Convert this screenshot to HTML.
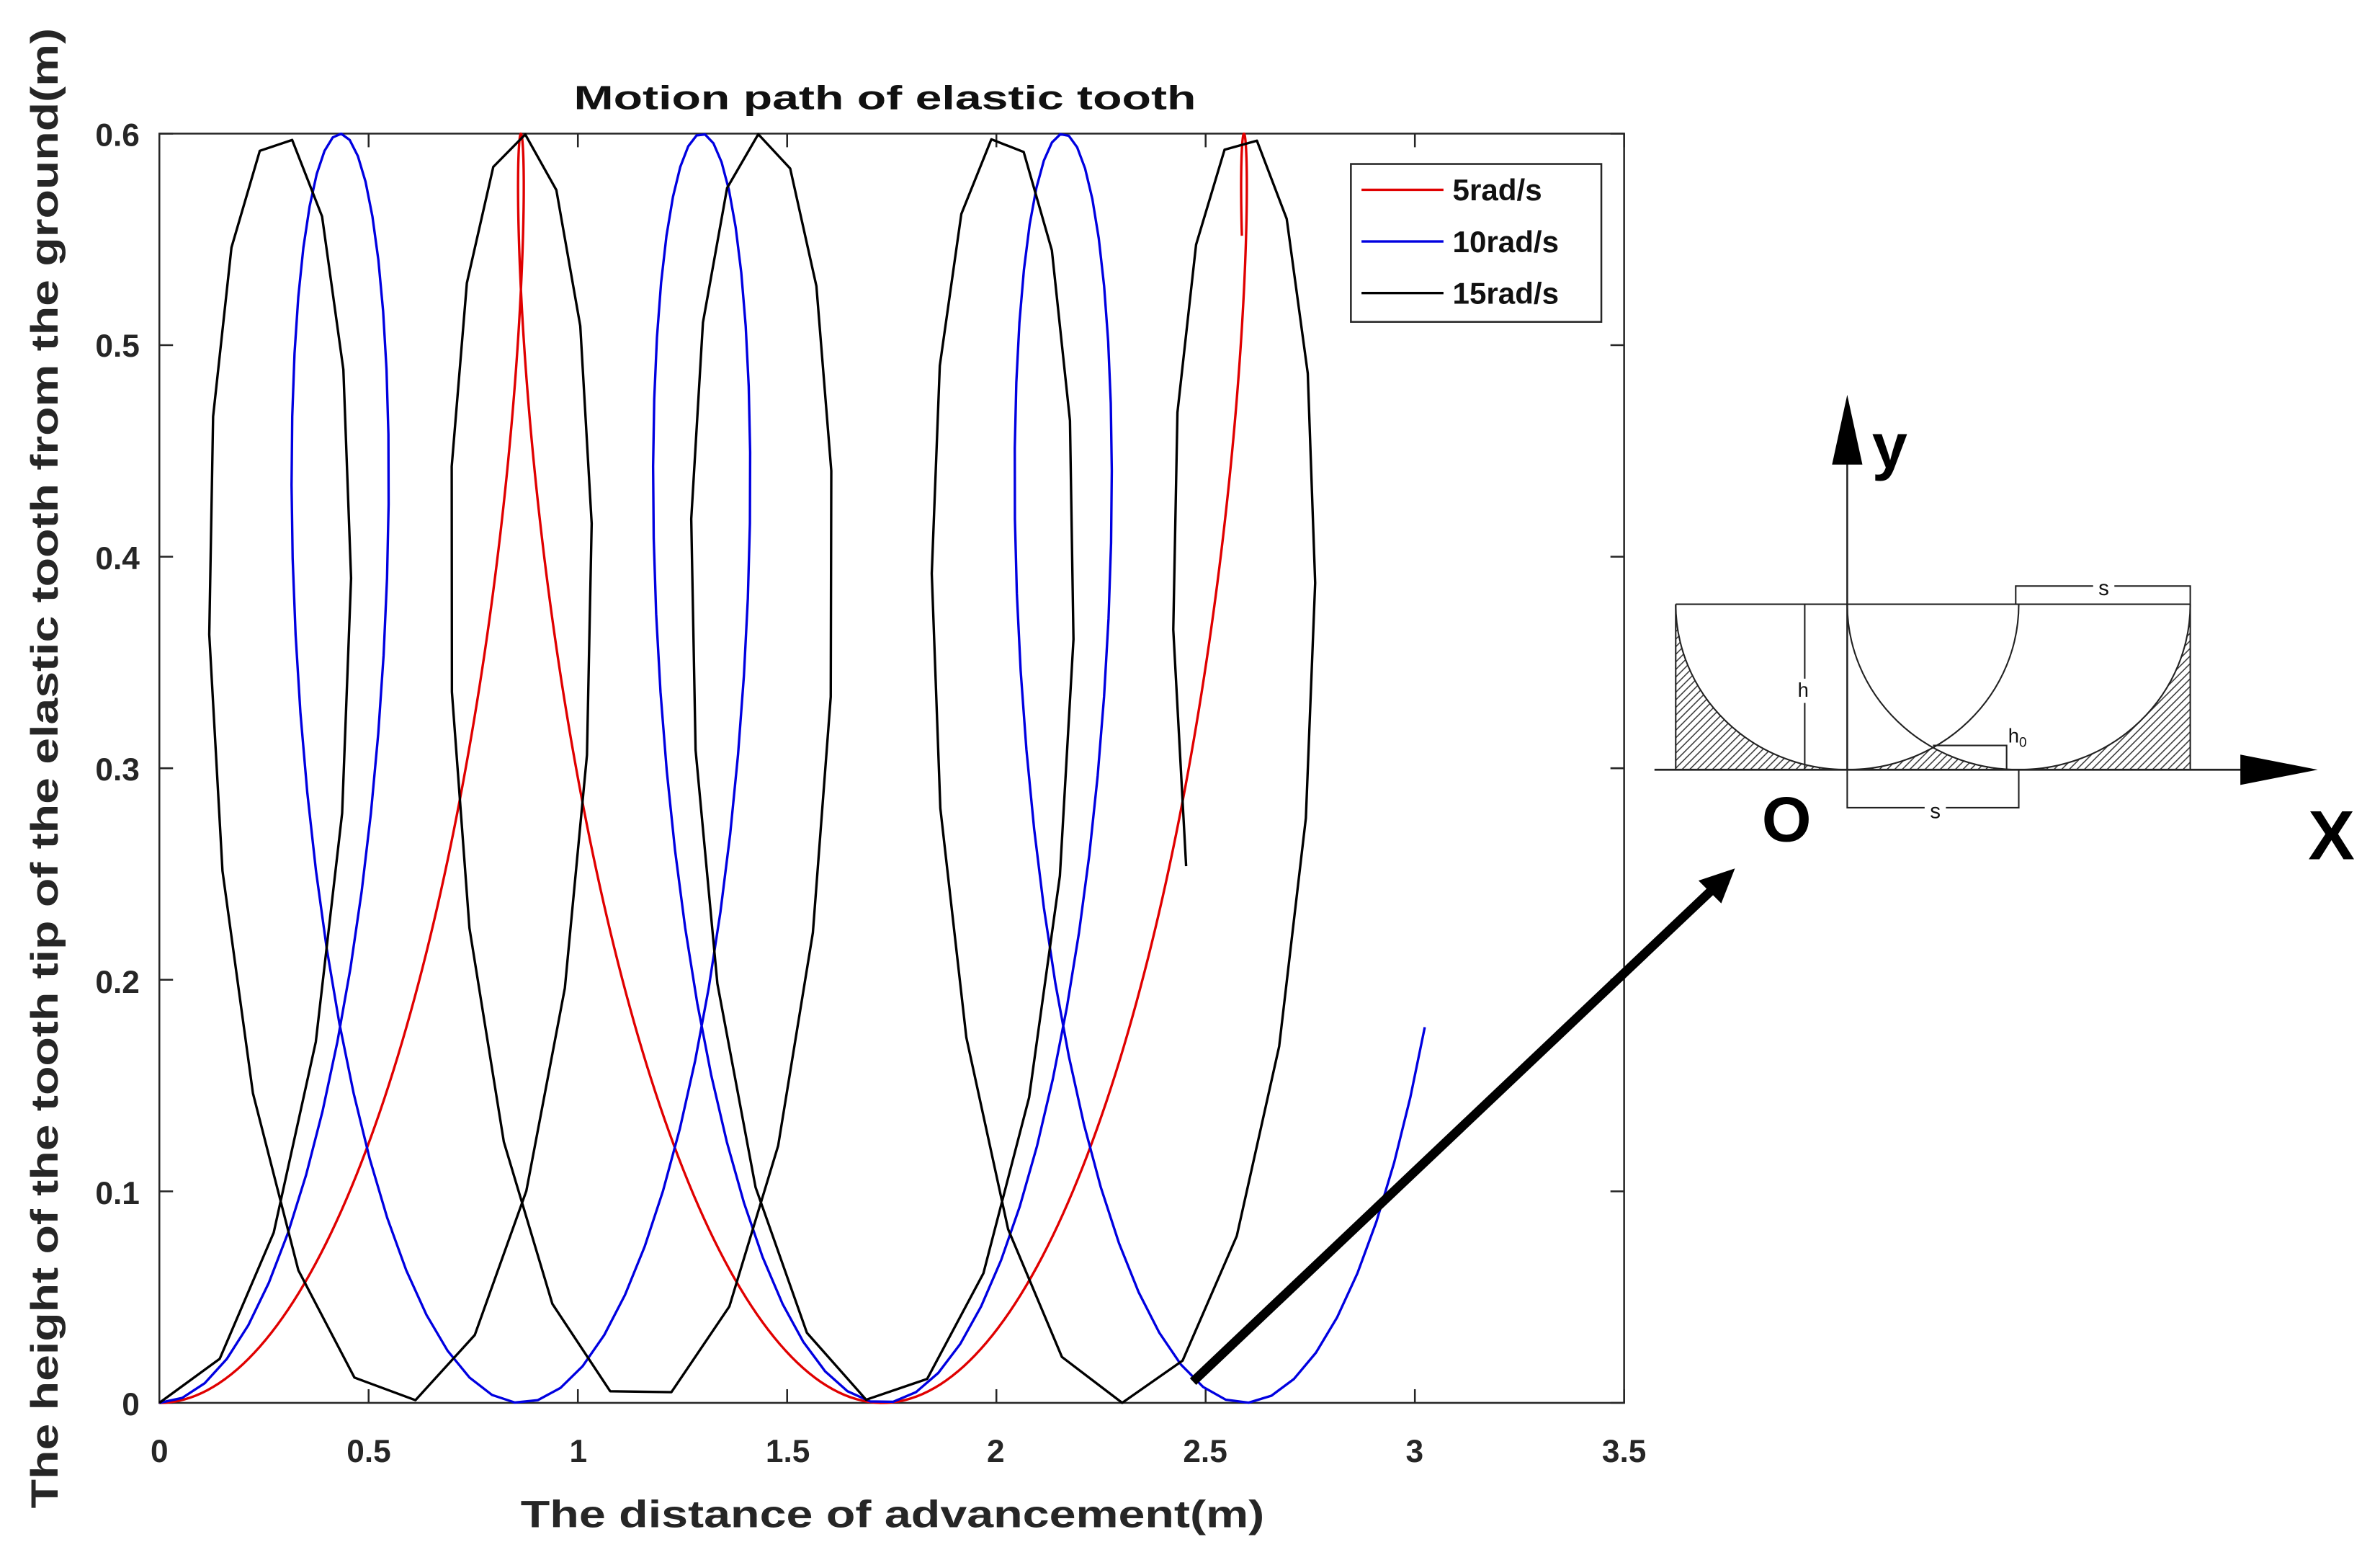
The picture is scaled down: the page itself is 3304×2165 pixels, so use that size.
<!DOCTYPE html>
<html><head><meta charset="utf-8"><style>
html,body{margin:0;padding:0;background:#fff;}
svg{display:block;font-family:"Liberation Sans",sans-serif;}
</style></head><body>
<svg id="s" width="3304" height="2165" viewBox="0 0 1568 1027.5" preserveAspectRatio="none" xmlns="http://www.w3.org/2000/svg">
<defs>
<pattern id="h" patternUnits="userSpaceOnUse" width="5" height="5">
<path d="M0,5 L5,0 M-1,1 L1,-1 M4,6 L6,4" stroke="#333" stroke-width="0.7"/>
</pattern>
</defs>
<rect width="1568" height="1027.5" fill="#fff"/>
<!-- axes box -->
<rect x="105" y="88" width="965" height="836" fill="none" stroke="#262626" stroke-width="1.2"/>
<g id="ticks" stroke="#262626" stroke-width="1.2"></g>
<g id="curves" fill="none" stroke-width="1.6" stroke-linejoin="round"></g>
<!-- tick labels -->
<g font-size="21" font-weight="bold" fill="#262626" text-anchor="middle">
<text x="105" y="963">0</text><text x="243" y="963">0.5</text><text x="381" y="963">1</text><text x="519" y="963">1.5</text><text x="656" y="963">2</text><text x="794" y="963">2.5</text><text x="932" y="963">3</text><text x="1070" y="963">3.5</text>
</g>
<g font-size="21" font-weight="bold" fill="#262626" text-anchor="end">
<text x="92" y="96">0.6</text><text x="92" y="235">0.5</text><text x="92" y="375">0.4</text><text x="92" y="514">0.3</text><text x="92" y="654">0.2</text><text x="92" y="793">0.1</text><text x="92" y="932">0</text>
</g>
<text x="583" y="72" font-size="22" font-weight="bold" text-anchor="middle" textLength="410" lengthAdjust="spacingAndGlyphs" fill="#111">Motion path of elastic tooth</text>
<text x="588" y="1006" font-size="25" font-weight="bold" text-anchor="middle" textLength="490" lengthAdjust="spacingAndGlyphs" fill="#262626">The distance of advancement(m)</text>
<text transform="translate(38,506) rotate(-90)" font-size="25" font-weight="bold" text-anchor="middle" textLength="975" lengthAdjust="spacingAndGlyphs" fill="#262626">The height of the tooth tip of the elastic tooth from the ground(m)</text>
<!-- legend -->
<rect x="890" y="108" width="165" height="104" fill="#fff" stroke="#262626" stroke-width="1.2"/>
<line x1="897" y1="125" x2="951" y2="125" stroke="#e00000" stroke-width="1.6"/>
<line x1="897" y1="159" x2="951" y2="159" stroke="#0000e0" stroke-width="1.6"/>
<line x1="897" y1="193" x2="951" y2="193" stroke="#000" stroke-width="1.6"/>
<g font-size="20" font-weight="bold" fill="#111">
<text x="957" y="132">5rad/s</text><text x="957" y="166">10rad/s</text><text x="957" y="200">15rad/s</text>
</g>
<!-- big arrow -->
<line x1="786" y1="910" x2="1128" y2="586" stroke="#000" stroke-width="6"/>
<polygon points="1143,572 1134,595 1119,580" fill="#000"/>
<!-- inset diagram -->
<path d="M1104,398 A113,109 0 0 0 1217,507 L1104,507 Z" fill="url(#h)"/>
<path d="M1217,507 A113,109 0 0 0 1273.5,492.4 A113,109 0 0 0 1330,507 Z" fill="url(#h)"/>
<path d="M1330,507 A113,109 0 0 0 1443,398 L1443,507 Z" fill="url(#h)"/>
<g fill="none" stroke="#222" stroke-width="1">
<path d="M1104,398 A113,109 0 0 0 1217,507 A113,109 0 0 0 1330,398"/>
<path d="M1217,398 A113,109 0 0 0 1330,507 A113,109 0 0 0 1443,398"/>
<line x1="1104" y1="398" x2="1443" y2="398"/>
<line x1="1104" y1="398" x2="1104" y2="507"/>
<line x1="1443" y1="398" x2="1443" y2="507"/>
<line x1="1090" y1="507" x2="1480" y2="507" stroke-width="1.3"/>
<line x1="1217" y1="300" x2="1217" y2="507" stroke-width="1.2"/>
<line x1="1189" y1="398" x2="1189" y2="507"/>
<polyline points="1273.5,491 1322,491 1322,507"/>
<polyline points="1217,507 1217,532 1330,532 1330,507"/>
<polyline points="1328,398 1328,386 1443,386 1443,398"/>
</g>
<polygon points="1217,260 1227,306 1207,306" fill="#000"/>
<polygon points="1527,507 1476,497 1476,517" fill="#000"/>
<rect x="1183" y="447" width="10" height="16" fill="#fff"/>
<text x="1188" y="459" font-size="13" text-anchor="middle" fill="#111">h</text>
<text x="1323" y="489" font-size="13" fill="#111">h<tspan font-size="9" dy="3">0</tspan></text>
<rect x="1268" y="526" width="14" height="12" fill="#fff"/>
<text x="1275" y="539" font-size="14" text-anchor="middle" fill="#111">s</text>
<rect x="1379" y="380" width="14" height="12" fill="#fff"/>
<text x="1386" y="392" font-size="14" text-anchor="middle" fill="#111">s</text>
<text x="1245" y="308" font-size="42" font-weight="bold" text-anchor="middle" fill="#000">y</text>
<text x="1177" y="554" font-size="42" font-weight="bold" text-anchor="middle" fill="#000">O</text>
<text x="1536" y="566" font-size="46" font-weight="bold" text-anchor="middle" fill="#000">X</text>
</svg>
<script>
(function(){
var NS="http://www.w3.org/2000/svg";
function X(m){return 105+275.7*m;}
function Y(v){return 924-1393.3*v;}
var v=1.375,R=0.3,dt=0.025;
var g=document.getElementById('curves');
[[5,'#e00000',0.005],[10,'#0000e0',0.0125],[15,'#000',0.025]].forEach(function(c){
  var w=c[0],pts=[];
  for(var t=0;t<=2.0001;t+=c[2]){
    var th=w*t;
    var x=v*t+R*Math.sin(th), y=R*(1-Math.cos(th));
    pts.push(X(x).toFixed(2)+','+Y(y).toFixed(2));
  }
  var p=document.createElementNS(NS,'polyline');
  p.setAttribute('points',pts.join(' '));
  p.setAttribute('stroke',c[1]);
  g.appendChild(p);
});
var tk=document.getElementById('ticks');
function ln(a,b,c,d){var l=document.createElementNS(NS,'line');l.setAttribute('x1',a);l.setAttribute('y1',b);l.setAttribute('x2',c);l.setAttribute('y2',d);tk.appendChild(l);}
for(var i=0;i<=7;i++){var x=105+137.86*i;ln(x,924,x,915);ln(x,88,x,97);}
for(var j=0;j<=6;j++){var y=924-139.33*j;ln(105,y,114,y);ln(1070,y,1061,y);}
})();
</script>
</body></html>
